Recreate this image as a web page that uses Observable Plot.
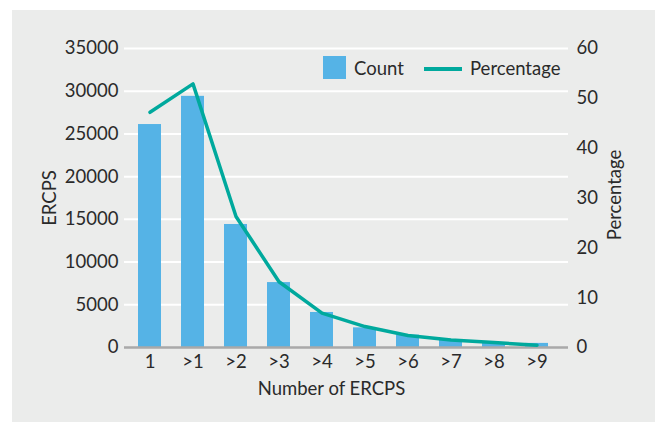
<!DOCTYPE html>
<html>
<head>
<meta charset="utf-8">
<script src="https://cdn.jsdelivr.net/npm/d3@7"></script>
<script src="https://cdn.jsdelivr.net/npm/@observablehq/plot@0.6"></script>
<style>
  html, body { margin: 0; padding: 0; background: #ffffff; }
  #wrap { position: relative; width: 657px; height: 423px; font-family: Lato, "Open Sans", sans-serif; color: #2a2a2a; }
  #panel { position: absolute; left: 12px; top: 10px; width: 643px; height: 412px; background: #ebeceb; }
  #chart { position: absolute; left: 0; top: 0; }
  .leg { position: absolute; font-size: 18.5px; line-height: 24px; }
</style>
</head>
<body>
<div id="wrap">
  <div id="panel"></div>
  <div id="chart"></div>
  <div class="leg" style="left:323px; top:56px; width:23px; height:23px; background:#55b3e6;"></div>
  <div class="leg" style="left:354px; top:56px;">Count</div>
  <div class="leg" style="left:424px; top:67px; width:38px; height:3.5px; background:#00a99d;"></div>
  <div class="leg" style="left:470px; top:56px;">Percentage</div>
</div>
<script>
const categories = ["1", ">1", ">2", ">3", ">4", ">5", ">6", ">7", ">8", ">9"];
const counts = [26100, 29400, 14400, 7600, 4100, 2300, 1450, 850, 520, 480];
const percentages = [47.2, 52.9, 26.3, 13.2, 6.9, 4.2, 2.4, 1.5, 1.0, 0.45];
const countTicks = [0, 5000, 10000, 15000, 20000, 25000, 30000, 35000];
const percentTicks = [0, 10, 20, 30, 40, 50, 60];

const countMax = 35000, pctMax = 60;
const k = countMax / pctMax;
const data = categories.map((c, i) => ({cat: c, count: counts[i], pct: percentages[i]}));

const chart = Plot.plot({
  width: 657,
  height: 423,
  marginLeft: 124,
  marginRight: 89,
  marginTop: 48,
  marginBottom: 76,
  style: {background: "transparent", fontFamily: "Lato, 'Open Sans', sans-serif", fontSize: "18.5px", color: "#2a2a2a"},
  x: {type: "band", domain: categories, paddingInner: 0.47, paddingOuter: 0.235, insetRight: 6},
  y: {domain: [0, countMax]},
  marks: [
    Plot.ruleY(countTicks.filter(t => t > 0), {stroke: "#ffffff", strokeWidth: 2}),
    Plot.barY(data, {x: "cat", y: "count", fill: "#55b3e6"}),
    Plot.ruleY([0], {stroke: "#a9a9a9", strokeWidth: 2.5}),
    Plot.line(data, {x: "cat", y: d => d.pct * k, stroke: "#00a99d", strokeWidth: 3.5}),
    Plot.axisY(countTicks, {anchor: "left", tickSize: 0, tickPadding: 6, label: null, tickFormat: d3.format("d"), fill: "#2a2a2a"}),
    Plot.axisY(percentTicks.map(p => p * k), {anchor: "right", tickSize: 0, tickPadding: 8, label: null, tickFormat: d => String(Math.round(d / k)), fill: "#2a2a2a"}),
    Plot.axisX({tickSize: 0, tickPadding: 7, label: null, fill: "#2a2a2a"}),
    Plot.text(["Number of ERCPS"], {frameAnchor: "bottom", dx: -15, dy: 42, lineAnchor: "middle", fill: "#2a2a2a"}),
    Plot.text(["ERCPS"], {frameAnchor: "left", textAnchor: "middle", dx: -74.5, rotate: -90, fill: "#2a2a2a"}),
    Plot.text(["Percentage"], {frameAnchor: "right", textAnchor: "middle", dx: 47, dy: -3, rotate: -90, fill: "#2a2a2a"})
  ]
});
document.getElementById("chart").appendChild(chart);
</script>
</body>
</html>
